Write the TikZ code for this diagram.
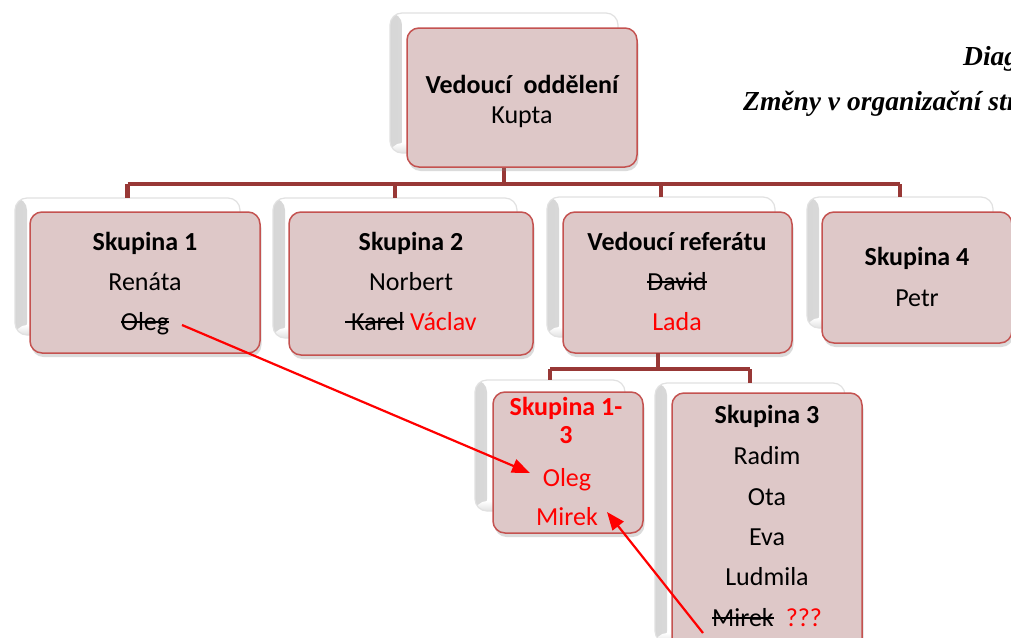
\documentclass[tikz,border=0pt]{standalone}
\usepackage{fontspec}
\setmainfont{Carlito}
\newfontfamily\titlefont{Liberation Serif}
\usetikzlibrary{shadows,arrows.meta}

\newsavebox\strkbox
\newcommand\strk[1]{\sbox\strkbox{#1}\rlap{\rule[7pt]{\wd\strkbox}{1.9pt}}\usebox\strkbox}

\definecolor{boxfill}{RGB}{222,200,200}
\definecolor{boxedge}{RGB}{196,82,80}
\definecolor{conncol}{RGB}{152,56,54}
\definecolor{backedge}{RGB}{225,225,225}

\begin{document}
\begin{tikzpicture}[x=1pt,y=-1pt,
  backbox/.style={draw=backedge, fill=white, rounded corners=12pt, line width=1.2pt,
     inner sep=0pt, outer sep=0pt,
     path picture={
       \shade[left color=black!16, right color=white]
         (path picture bounding box.south west) rectangle ([xshift=12pt]path picture bounding box.north west);
       \shade[bottom color=black!12, top color=white]
         (path picture bounding box.south west) rectangle ([yshift=10pt]path picture bounding box.south east);
     }},
  card/.style={draw=boxedge, fill=boxfill, rounded corners=12pt, line width=1.5pt,
     inner sep=0pt, outer sep=0pt,
     drop shadow={opacity=0.28, shadow xshift=1.5pt, shadow yshift=-4pt}},
  conn/.style={draw=conncol, line width=4.5pt},
  txt/.style={font=\fontsize{26}{30}\selectfont, inner sep=0pt, anchor=base},
  btxt/.style={txt, font=\fontsize{26}{30}\selectfont\bfseries},
  ttl/.style={font=\fontsize{27.5}{30}\selectfont\titlefont\bfseries\itshape, inner sep=0pt, anchor=base west},
  redarrow/.style={draw=red, line width=2.2pt, -{Triangle[length=18pt,width=14pt]}}
]
\useasboundingbox (0,0) rectangle (1011,637);
\fill[white] (0,0) rectangle (1011,637);

% ---- back (shadow) boxes ----
\node[backbox, minimum width=228pt, minimum height=140pt] (tops) at (504,83) {};
\node[backbox, minimum width=225pt, minimum height=137pt] (b1s) at (127.5,266.5) {};
\node[backbox, minimum width=244pt, minimum height=140pt] (b2s) at (395,268) {};
\node[backbox, minimum width=228pt, minimum height=140pt] (b3s) at (661,267) {};
\node[backbox, minimum width=186pt, minimum height=131pt] (b4s) at (900,262.5) {};

% ---- connectors ----
\coordinate (hbar) at (0,184);
\coordinate (hbar2) at (0,369);
\draw[conn] (tops.south) -- (tops.south |- hbar);
\draw[conn] (b1s.north |- hbar) -- (b4s.north |- hbar);
\draw[conn] (b1s.north |- hbar) -- (b1s.north);
\draw[conn] (b2s.north |- hbar) -- (b2s.north);
\draw[conn] (b3s.north |- hbar) -- (b3s.north);
\draw[conn] (b4s.north |- hbar) -- (b4s.north);

% ---- main cards ----
\node[card, minimum width=230pt, minimum height=139pt] (top) at (522,97.5) {};
\node[card, minimum width=230pt, minimum height=141pt] (b1) at (145,282.5) {};
\node[card, minimum width=244pt, minimum height=143pt] (b2) at (411,283.5) {};
\node[card, minimum width=229pt, minimum height=141pt] (b3) at (677.5,282.5) {};
\node[card, minimum width=190pt, minimum height=131pt] (b4) at (917,277.5) {};

% ---- second level ----
\node[backbox, minimum width=150pt, minimum height=131pt] (b13s) at (550,445.5) {};
\node[backbox, minimum width=190pt, minimum height=260pt] (b33s) at (750,513) {};
\coordinate (vref) at (658,0);
\draw[conn] (vref |- b3.south) -- (vref |- hbar2);
\draw[conn] (b13s.north |- hbar2) -- (b33s.north |- hbar2);
\draw[conn] (b13s.north |- hbar2) -- (b13s.north);
\draw[conn] (b33s.north |- hbar2) -- (b33s.north);

\node[card, minimum width=150pt, minimum height=141pt] (b13) at (568,462.5) {};
\node[card, minimum width=190pt, minimum height=270pt] (b33) at (767,528) {};

% ---- texts ----
\node[btxt] (t0a) at (522,93) {Vedoucí\ \ oddělení};
\node[txt]  (t0b) at (522,123) {Kupta};

\node[btxt] (t1a) at (145,250) {Skupina 1};
\node[txt]  (t1b) at (145,290) {Renáta};
\node[txt]  (t1c) at (145,330) {\strk{Oleg}};

\node[btxt] (t2a) at (411,250) {Skupina 2};
\node[txt]  (t2b) at (411,290) {Norbert};
\node[txt]  (t2c) at (411,330) {\strk{\ Karel} \textcolor{red}{Václav}};

\node[btxt] (t3a) at (677,250) {Vedoucí referátu};
\node[txt]  (t3b) at (677,290) {\strk{David}};
\node[txt, text=red] (t3c) at (677,330) {Lada};

\node[btxt] (t4a) at (917,265) {Skupina 4};
\node[txt]  (t4b) at (917,306) {Petr};

\node[btxt, text=red] (t5a) at (566,415) {Skupina 1-};
\node[btxt, text=red] (t5b) at (566,443) {3};
\node[txt, text=red]  (t5c) at (567,486) {Oleg};
\node[txt, text=red]  (t5d) at (567,525) {Mirek};

\node[btxt] (t6a) at (767,423) {Skupina 3};
\node[txt]  (t6b) at (767,464) {Radim};
\node[txt]  (t6c) at (767,505) {Ota};
\node[txt]  (t6d) at (767,545) {Eva};
\node[txt]  (t6e) at (767,585) {Ludmila};
\node[txt]  (t6f) at (767,626) {\strk{Mirek}\hspace{12pt}\textcolor{red}{???}};

% ---- title (cut at right edge, as in the reference) ----
\begin{scope}
\clip (0,0) rectangle (1011,637);
\node[ttl] (ttl1) at (963,65) {Diagram};
\node[ttl] (ttl2) at (743,110) {Změny v organizační struktuře};
\end{scope}

% ---- red arrows ----
\coordinate (a1s) at (182,325);
\coordinate (a1e) at (530,473);
\coordinate (a2s) at (703,633);
\coordinate (a2e) at (607,512);
\draw[redarrow] (a1s) -- (a1e);
\draw[redarrow] (a2s) -- (a2e);
\end{tikzpicture}
\end{document}
